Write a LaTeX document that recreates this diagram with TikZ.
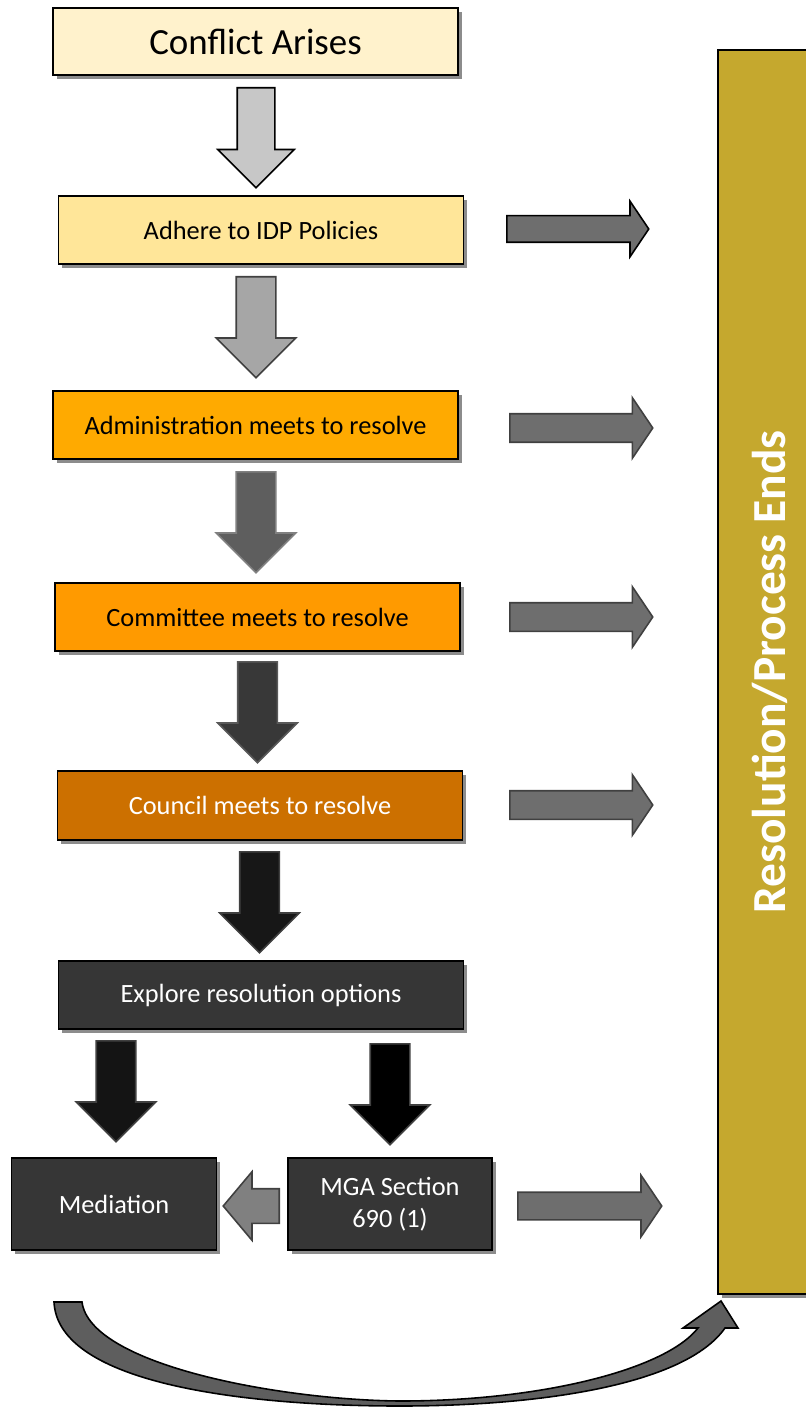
\documentclass[tikz,border=0pt]{standalone}
\usepackage{fontspec}
\setmainfont{Carlito}
\usetikzlibrary{shapes.arrows,shadows}

\definecolor{creambox}{HTML}{FFF2CC}
\definecolor{paleorange}{HTML}{FFE699}
\definecolor{amberbox}{HTML}{FFAA00}
\definecolor{orangebox}{HTML}{FF9A00}
\definecolor{rustbox}{HTML}{CC7000}
\definecolor{charcoal}{HTML}{363636}
\definecolor{goldbar}{HTML}{C5A82E}
\definecolor{sidegray}{HTML}{6E6E6E}
\definecolor{curvegray}{HTML}{5E5E5E}

\begin{document}
\begin{tikzpicture}[x=0.02cm,y=-0.02cm,
  box/.style={draw=black, line width=0.8pt, minimum width=8.1cm, minimum height=1.36cm,
    inner sep=0pt, font=\fontsize{15}{18}\selectfont,
    drop shadow={shadow xshift=2.2pt, shadow yshift=-2.2pt, fill=black!45, opacity=1}},
  darkbox/.style={box, fill=charcoal, text=white},
  downarrow/.style={single arrow, shape border rotate=270, draw, line width=0.9pt,
    minimum height=2.02cm, minimum width=0pt, single arrow head extend=0.4cm,
    inner sep=0.38cm, anchor=tail},
  sidearrow/.style={single arrow, draw=black!75, fill=sidegray, line width=0.9pt,
    minimum height=2.86cm, minimum width=0pt, single arrow head extend=0.32cm,
    single arrow tip angle=112, inner sep=0.27cm, anchor=tail}
]
\useasboundingbox (0,0) rectangle (805,1408);

% boxes
\node[box, fill=creambox, font=\fontsize{21}{25}\selectfont, minimum height=1.34cm] (conflict) at (255.5,41.5) {Conflict Arises};
\node[box, fill=paleorange] (adhere) at (261,230) {Adhere to IDP Policies};
\node[box, fill=amberbox] (admin) at (255.5,425) {Administration meets to resolve};
\node[box, fill=orangebox] (committee) at (257.5,617) {Committee meets to resolve};
\node[box, fill=rustbox, text=white, minimum height=1.38cm] (council) at (260,805.5) {Council meets to resolve};
\node[darkbox] (explore) at (261,995) {Explore resolution options};
\node[darkbox, minimum width=4.1cm, minimum height=1.84cm] (mediation) at (114,1204) {Mediation};
\node[darkbox, minimum width=4.08cm, minimum height=1.84cm, align=center] (mga) at (390,1204) {MGA Section\\690 (1)};

% end bar
\node[draw=black, line width=0.8pt, fill=goldbar, minimum width=2.08cm, minimum height=24.88cm,
  drop shadow={shadow xshift=2.2pt, shadow yshift=-2.2pt, fill=black!45, opacity=1}] (resolution) at (770,672) {};
\node[rotate=90, text=white, font=\fontsize{27}{32}\selectfont\bfseries] (endlabel) at (resolution.center) {Resolution/Process Ends};

% down arrows
\node[downarrow, fill=black!22, draw=black, inner sep=0.36cm, single arrow head extend=0.39cm, minimum height=2cm] (down1) at (256,87) {};
\node[downarrow, fill=black!35, draw=black!75] (down2) at (256,276) {};
\node[downarrow, fill=black!63, draw=black!50] (down3) at (256,471) {};
\node[downarrow, fill=black!78, draw=black!65] (down4) at (257.5,661) {};
\node[downarrow, fill=black!91, draw=black!75] (down5) at (259.5,851) {};
\node[downarrow, fill=black!92, draw=black!75] (down6) at (116,1040) {};
\node[downarrow, fill=black, draw=black!75] (down7) at (390,1043) {};

% arrows to the end bar
\node[sidearrow, draw=black, minimum height=2.84cm, inner sep=0.25cm, single arrow head extend=0.29cm] (side1) at (506,229) {};
\node[sidearrow] (side2) at (509,428) {};
\node[sidearrow] (side3) at (509,617) {};
\node[sidearrow] (side4) at (509,805) {};
\node[sidearrow, minimum height=2.88cm, inner sep=0.26cm, single arrow head extend=0.34cm] (side5) at (517,1206) {};

% mga to mediation
\node[single arrow, shape border rotate=180, draw=black!75, fill=black!50, line width=0.9pt,
  minimum height=1.12cm, minimum width=0pt, single arrow head extend=0.34cm,
  single arrow tip angle=100, inner sep=0.33cm, anchor=tail] (back) at (280,1206) {};

% curved arrow
\filldraw[fill=curvegray, draw=black, line width=0.9pt]
  (54,1302) -- (82,1302)
  .. controls (90,1365) and (280,1400) .. (400,1401)
  .. controls (540,1401) and (665,1370) .. (698,1328)
  -- (683,1328) -- (721,1301) -- (738,1328) -- (725,1328)
  .. controls (685,1385) and (540,1406) .. (400,1406)
  .. controls (250,1406) and (58,1385) .. (54,1302) -- cycle;

\end{tikzpicture}
\end{document}
